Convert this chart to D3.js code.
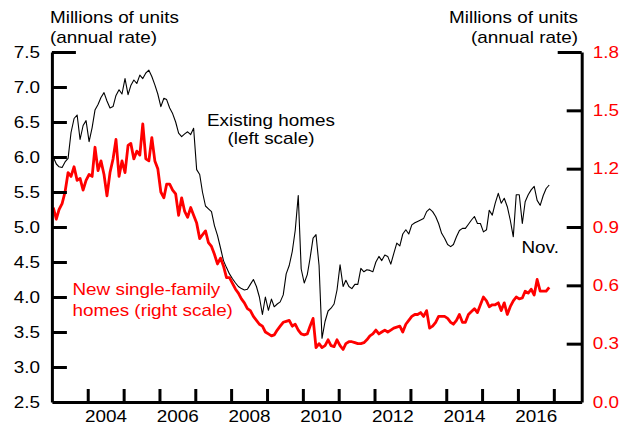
<!DOCTYPE html>
<html><head><meta charset="utf-8">
<script src="https://cdnjs.cloudflare.com/ajax/libs/d3/7.8.5/d3.min.js"></script>
<style>
html,body{margin:0;padding:0;background:#fff;}
text{font-family:"Liberation Sans",Arial,Helvetica,sans-serif;}
</style>
</head><body>
<script>
// ---- data (monthly, starting January 2003, through November 2016) ----
const startYear = 2003;
const existingHomes = [
6.00,5.90,5.86,5.85,5.93,5.98,6.35,6.55,6.60,6.25,6.45,6.52,
6.22,6.42,6.67,6.75,6.85,6.92,6.80,6.70,6.72,6.88,6.96,6.90,
7.12,6.89,7.02,7.10,7.05,7.17,7.12,7.20,7.24,7.15,7.03,6.90,
6.72,6.84,6.82,6.70,6.62,6.50,6.34,6.29,6.33,6.36,6.32,6.41,
5.82,5.75,5.50,5.30,5.26,5.22,5.02,4.88,4.70,4.52,4.42,4.33,
4.26,4.20,4.15,4.12,4.10,4.11,4.18,4.25,4.15,4.00,3.75,4.00,
3.81,3.97,3.86,3.90,3.93,4.03,4.33,4.45,4.65,4.95,5.45,4.40,
4.20,4.32,4.55,4.84,4.89,4.45,3.41,3.65,3.80,3.84,3.90,4.10,
4.46,4.15,4.24,4.15,4.12,4.18,4.18,4.41,4.36,4.39,4.38,4.36,
4.50,4.58,4.52,4.60,4.58,4.47,4.62,4.77,4.73,4.90,4.96,4.90,
5.03,5.06,5.08,5.10,5.12,5.22,5.26,5.22,5.15,5.05,4.91,4.84,
4.75,4.72,4.75,4.86,4.95,4.98,4.98,5.04,5.10,5.15,5.05,5.05,
4.93,4.96,5.24,5.17,5.34,5.48,5.34,5.41,5.29,5.10,4.86,5.46,
5.46,5.05,5.36,5.46,5.53,5.58,5.38,5.31,5.45,5.55,5.60
];
const newHomes = [
1.00,0.94,0.99,1.02,1.08,1.18,1.16,1.21,1.14,1.15,1.09,1.14,
1.17,1.16,1.31,1.19,1.24,1.17,1.06,1.18,1.25,1.35,1.16,1.24,
1.18,1.32,1.33,1.25,1.29,1.27,1.43,1.25,1.24,1.36,1.24,1.20,
1.08,1.05,1.12,1.12,1.09,1.07,0.96,1.05,0.98,0.95,1.00,0.96,
0.92,0.84,0.86,0.88,0.82,0.80,0.76,0.71,0.74,0.70,0.64,0.64,
0.61,0.58,0.56,0.53,0.51,0.48,0.47,0.44,0.42,0.40,0.39,0.36,
0.35,0.34,0.345,0.37,0.39,0.41,0.415,0.42,0.39,0.40,0.37,0.35,
0.345,0.35,0.39,0.43,0.28,0.30,0.28,0.29,0.32,0.29,0.285,0.32,
0.29,0.27,0.30,0.31,0.31,0.305,0.30,0.30,0.305,0.32,0.34,0.35,
0.37,0.35,0.36,0.37,0.36,0.37,0.38,0.385,0.39,0.36,0.40,0.42,
0.44,0.45,0.45,0.46,0.44,0.47,0.38,0.39,0.41,0.44,0.44,0.44,
0.43,0.41,0.40,0.42,0.45,0.41,0.41,0.45,0.465,0.48,0.46,0.50,
0.54,0.52,0.49,0.50,0.50,0.51,0.47,0.51,0.45,0.49,0.52,0.54,
0.53,0.535,0.57,0.56,0.58,0.55,0.63,0.57,0.57,0.57,0.59
];
const leftTicks = [2.5,3.0,3.5,4.0,4.5,5.0,5.5,6.0,6.5,7.0,7.5];
const rightTicks = [0.0,0.3,0.6,0.9,1.2,1.5,1.8];
const yearTicks = [2004,2005,2006,2007,2008,2009,2010,2011,2012,2013,2014,2015,2016,2017];
const yearLabels = [2004,2006,2008,2010,2012,2014,2016];

// ---- layout ----
const W = 630, H = 425;
const SX = 1.18; // horizontal stretch of the lettering
const svg = d3.select("body").append("svg").attr("width", W).attr("height", H);

const x = d3.scaleTime()
  .domain([new Date(2003,0,1), new Date(2017,9,12)])
  .range([51.9, 581.7]);
const yL = d3.scaleLinear().domain([2.5,7.5]).range([402,52]);
const yR = d3.scaleLinear().domain([0,1.8]).range([402,52]);

const dateOf = i => new Date(startYear, i, 15);

// ---- lines ----
const lineL = d3.line().x((d,i)=>x(dateOf(i))).y(d=>yL(d));
const lineR = d3.line().x((d,i)=>x(dateOf(i))).y(d=>yR(d));

svg.append("path").datum(existingHomes).attr("d", lineL)
  .attr("fill","none").attr("stroke","#000").attr("stroke-width",1.1)
  .attr("stroke-linejoin","round");
svg.append("path").datum(newHomes).attr("d", lineR)
  .attr("fill","none").attr("stroke","#ff0000").attr("stroke-width",2.8)
  .attr("stroke-linejoin","round");

// ---- axes ----
function styleAxis(g, color){
  g.select(".domain").attr("stroke","#000").attr("stroke-width",3);
  g.selectAll(".tick line").attr("stroke","#000").attr("stroke-width",3);
  g.selectAll(".tick text").attr("fill",color).attr("font-size",16)
    .attr("font-family",'"Liberation Sans",Arial,sans-serif');
}

const gL = svg.append("g").attr("transform","translate(51.9,0)")
  .call(d3.axisLeft(yL).tickValues(leftTicks).tickSize(-15).tickSizeOuter(0)
        .tickFormat(d3.format(".1f")));
styleAxis(gL,"#000");
gL.selectAll(".tick text").attr("x", -12/SX).attr("text-anchor","end")
  .attr("transform",`scale(${SX},1)`);
gL.selectAll(".tick line").filter(d=>d===7.5).attr("x2",24);
gL.selectAll(".tick line").filter(d=>d===2.5).remove();

const gR = svg.append("g").attr("transform","translate(581.7,0)")
  .call(d3.axisRight(yR).tickValues(rightTicks).tickSize(-15).tickSizeOuter(0)
        .tickFormat(d3.format(".1f")));
styleAxis(gR,"#ff0000");
gR.selectAll(".tick text").attr("x", 11/SX).attr("text-anchor","start")
  .attr("transform",`scale(${SX},1)`);
gR.selectAll(".tick line").filter(d=>d===1.8).attr("x2",-24);
gR.selectAll(".tick line").filter(d=>d===0).remove();

const gB = svg.append("g").attr("transform","translate(0,402)")
  .call(d3.axisBottom(x).tickValues(yearTicks.map(y=>new Date(y,0,1)))
        .tickSize(-13).tickSizeOuter(0).tickFormat(""));
styleAxis(gB,"#000");

const gBL = svg.append("g").attr("transform","translate(0,402)")
  .call(d3.axisBottom(x).tickValues(yearLabels.map(y=>new Date(y,6,1)))
        .tickSize(0).tickFormat(d3.timeFormat("%Y")));
gBL.select(".domain").remove();
styleAxis(gBL,"#000");
gBL.selectAll(".tick text").attr("y",null).attr("dy",null).attr("y",20)
  .attr("transform",`scale(${SX},1)`);

// ---- texts ----
function label(px, py, str, anchor, color, size){
  svg.append("text").attr("transform",`translate(${px},${py}) scale(${SX},1)`)
    .attr("text-anchor",anchor).attr("fill",color).attr("font-size",size||16)
    .text(str);
}
label(50, 23, "Millions of units", "start", "#000");
label(50, 43, "(annual rate)", "start", "#000");
label(578, 23, "Millions of units", "end", "#000");
label(578, 43, "(annual rate)", "end", "#000");
label(271, 126, "Existing homes", "middle", "#000");
label(271, 144, "(left scale)", "middle", "#000");
label(72.5, 295, "New single-family", "start", "#ff0000");
label(72.5, 316, "homes (right scale)", "start", "#ff0000");
label(521.5, 252.5, "Nov.", "start", "#000");
</script>
</body></html>
